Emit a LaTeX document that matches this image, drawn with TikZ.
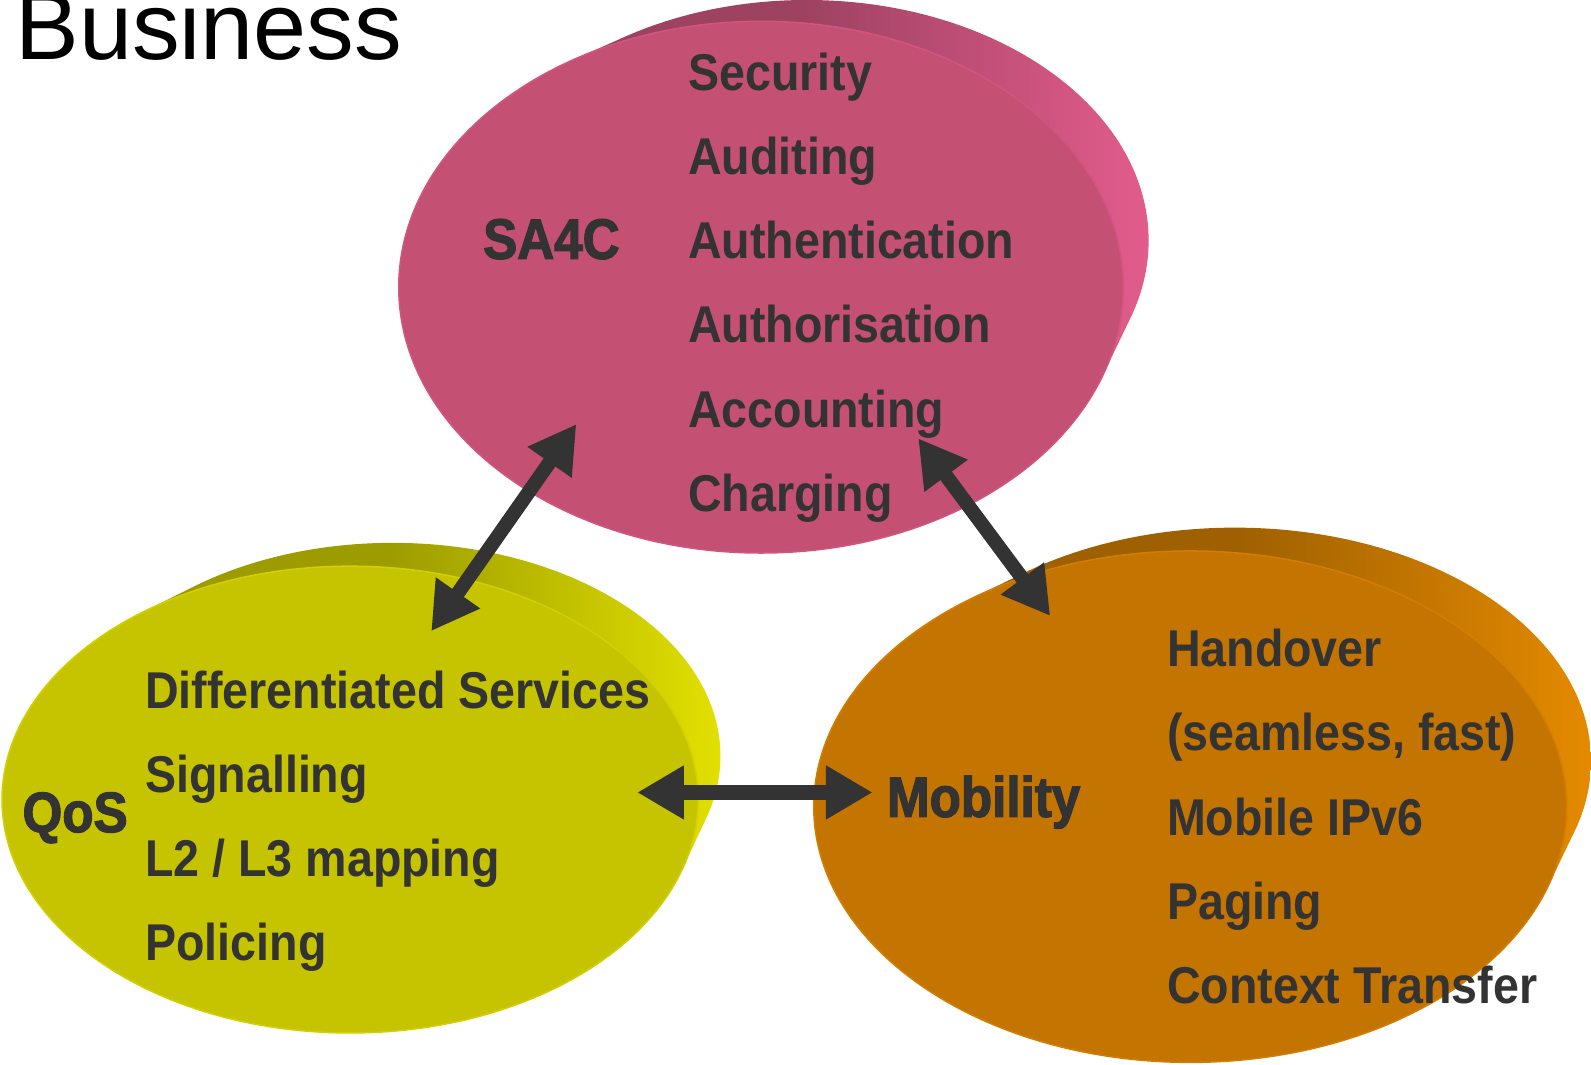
\documentclass[tikz,border=0pt]{standalone}
\usepackage{fontspec}
\setmainfont{Liberation Sans}
\newfontfamily\narrowbold[FakeStretch=0.9]{Liberation Sans}
\newfontfamily\narrowheavy[FakeStretch=0.9,FakeBold=2.2]{Liberation Sans}
\usetikzlibrary{arrows.meta,shapes.geometric}
\definecolor{txt}{HTML}{333333}
\definecolor{pinkF}{HTML}{C45073}
\definecolor{pinkD}{HTML}{9E4262}
\definecolor{pinkL}{HTML}{E25C8C}
\definecolor{yelF}{HTML}{C6C300}
\definecolor{yelD}{HTML}{9C9C00}
\definecolor{yelL}{HTML}{E2E000}
\definecolor{oraF}{HTML}{C47400}
\definecolor{oraD}{HTML}{9E6000}
\definecolor{oraL}{HTML}{E48A00}
\pgfdeclarehorizontalshading{pinkside}{100bp}{color(0bp)=(pinkD); color(25bp)=(pinkD); color(52bp)=(pinkD); color(75bp)=(pinkL); color(100bp)=(pinkL)}
\pgfdeclarehorizontalshading{yelside}{100bp}{color(0bp)=(yelD); color(25bp)=(yelD); color(52bp)=(yelD); color(75bp)=(yelL); color(100bp)=(yelL)}
\pgfdeclarehorizontalshading{oraside}{100bp}{color(0bp)=(oraD); color(25bp)=(oraD); color(52bp)=(oraD); color(75bp)=(oraL); color(100bp)=(oraL)}
% #1 cx, #2 cy, #3 a, #4 b, #5 dx, #6 dy, #7 da, #8 db, #9 shading
\newcommand\diskside[9]{%
  \shade[shading=#9] \foreach \k in {0,...,30}{ ({#1+(#5)*\k/30},{#2+(#6)*\k/30}) ellipse [x radius={#3+(#7)*\k/30}, y radius={#4+(#8)*\k/30}] };
}
\begin{document}
\begin{tikzpicture}[x=1pt,y=-1pt,
  lbl/.style={anchor=base west, inner sep=0pt, text=txt, font=\narrowbold\bfseries\fontsize{51}{51}\selectfont},
  hdr/.style={anchor=base west, inner sep=0pt, text=txt, font=\narrowheavy\bfseries\fontsize{56}{56}\selectfont},
  twoway/.style={draw=txt, line width=14pt, {Triangle[length=46pt,width=50pt]}-{Triangle[length=46pt,width=50pt]}},
  face/.style={ellipse, inner sep=0pt, draw=#1, line width=1.5pt}]
\useasboundingbox (0,0) rectangle (1568,1049);
\fill[white] (0,0) rectangle (1568,1049);

% cylinder sides (back + side band)
\diskside{750}{283}{357}{262}{45}{-46}{-20}{-25}{pinkside}
\diskside{345}{788}{343}{230}{42}{-43}{-20}{-20}{yelside}
\diskside{1173}{795}{371}{252}{44}{-45}{-20}{-22}{oraside}

% front faces
\node[face=pinkF!55!pinkL, fill=pinkF, minimum width=714pt, minimum height=524pt] (sa4cdisk) at (750,283) {};
\node[face=yelF!55!yelL, fill=yelF, minimum width=686pt, minimum height=460pt] (qosdisk) at (345,788) {};
\node[face=oraF!55!oraL, fill=oraF, minimum width=742pt, minimum height=504pt] (mobdisk) at (1173,795) {};

% arrow end points
\coordinate (sa4cA) at (568,418);
\coordinate (qosA) at (425,622);
\coordinate (sa4cB) at (905,432);
\coordinate (mobB) at (1035,607);
\coordinate (qosC) at (628,781);
\coordinate (mobC) at (860,781);

\draw[twoway] (sa4cA) -- (qosA);
\draw[twoway] (sa4cB) -- (mobB);
\draw[twoway] (qosC) -- (mobC);

% title
\node[anchor=base west, inner sep=0pt, font=\fontsize{94}{94}\selectfont] (title) at (15,59) {Business};

% SA4C
\node[hdr] (sa4c) at (476,255) {SA4C};
\node[lbl] (s1) at (678,89) {Security};
\node[lbl] (s2) at (678,172) {Auditing};
\node[lbl] (s3) at (678,255) {Authentication};
\node[lbl] (s4) at (678,338) {Authorisation};
\node[lbl] (s5) at (678,421) {Accounting};
\node[lbl] (s6) at (678,504) {Charging};

% QoS
\node[hdr] (qos) at (22,820) {QoS};
\node[lbl] (q1) at (143,698) {Differentiated Services};
\node[lbl] (q2) at (143,781) {Signalling};
\node[lbl] (q3) at (143,864) {L2 / L3 mapping};
\node[lbl] (q4) at (143,947) {Policing};

% Mobility
\node[hdr] (mob) at (874,805) {Mobility};
\node[lbl] (m1) at (1150,657) {Handover};
\node[lbl] (m2) at (1150,740) {(seamless, fast)};
\node[lbl] (m3) at (1150,823) {Mobile IPv6};
\node[lbl] (m4) at (1150,906) {Paging};
\node[lbl] (m5) at (1150,989) {Context Transfer};
\end{tikzpicture}
\end{document}
